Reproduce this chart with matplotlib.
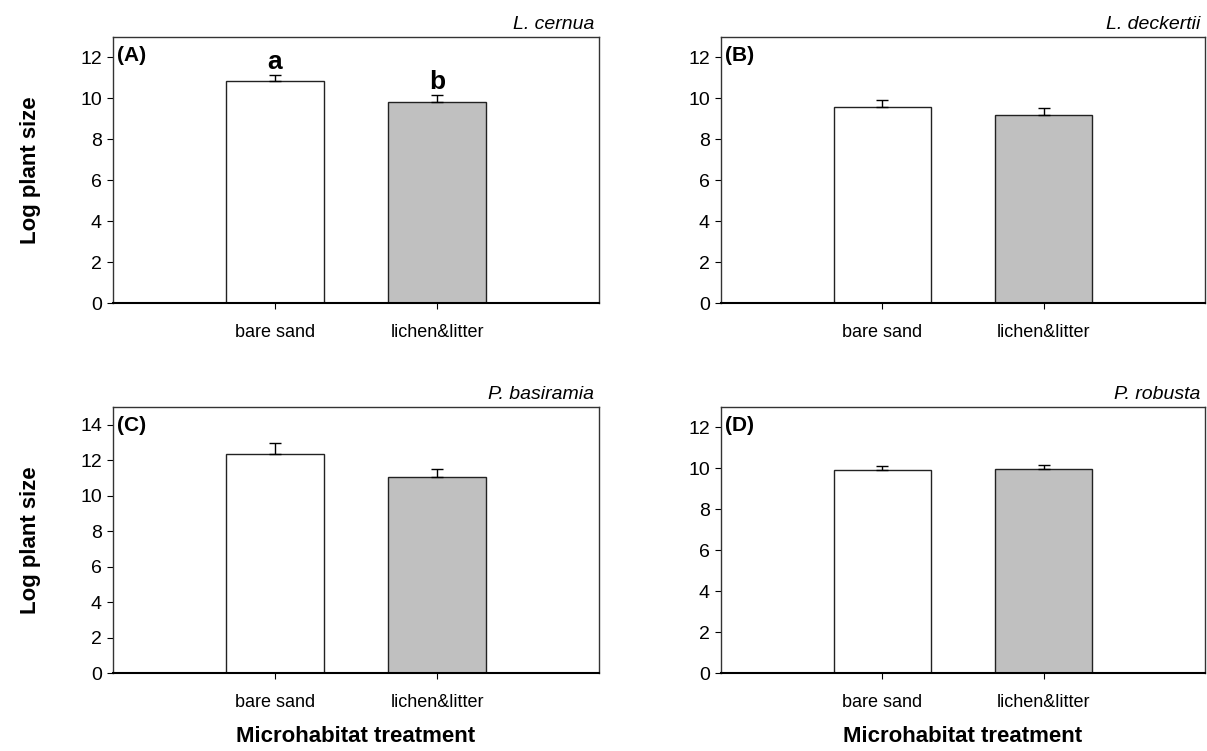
import matplotlib
matplotlib.use("Agg")
import matplotlib.pyplot as plt

plt.rcParams['font.family'] = ['Liberation Sans', 'DejaVu Sans']

categories = ["bare sand", "lichen&litter"]
panel_labels = ["(A)", "(B)", "(C)", "(D)"]
species = ["L. cernua", "L. deckertii", "P. basiramia", "P. robusta"]

means_A = [10.86, 9.82]
errs_A = [0.26, 0.33]
means_B = [9.56, 9.17]
errs_B = [0.37, 0.36]
means_C = [12.35, 11.06]
errs_C = [0.60, 0.47]
means_D = [9.92, 9.97]
errs_D = [0.18, 0.18]

ylims = [13, 13, 15, 13]
yticks_list = [[0, 2, 4, 6, 8, 10, 12], [0, 2, 4, 6, 8, 10, 12],
               [0, 2, 4, 6, 8, 10, 12, 14], [0, 2, 4, 6, 8, 10, 12]]
sig_letters_A = ["a", "b"]

bar_colors = ["white", "#c0c0c0"]

W, H = 1207, 751
fig = plt.figure(figsize=(W / 100, H / 100), dpi=100)

rects = [
    [113 / W, 1 - 303 / H, 486 / W, 266 / H],
    [721 / W, 1 - 303 / H, 484 / W, 266 / H],
    [113 / W, 1 - 673 / H, 486 / W, 266 / H],
    [721 / W, 1 - 673 / H, 484 / W, 266 / H],
]

all_means = [means_A, means_B, means_C, means_D]
all_errs = [errs_A, errs_B, errs_C, errs_D]
positions = [1, 2]

for i in range(4):
    ax = fig.add_axes(rects[i])
    m = all_means[i]
    e = all_errs[i]
    ax.bar(positions, m, width=0.6, color=bar_colors, edgecolor="#222222",
           linewidth=1.0, zorder=2)
    ax.errorbar(positions, m, yerr=[[0, 0], e], fmt="none", ecolor="black",
                elinewidth=1.0, capsize=4.5, capthick=1.0, zorder=3)
    ax.set_xlim(0, 3)
    ax.set_ylim(0, ylims[i])
    ax.set_yticks(yticks_list[i])
    ax.set_xticks(positions)
    ax.set_xticklabels(categories, fontsize=13)
    ax.tick_params(axis="y", direction="out", length=4, width=0.8,
                   labelsize=14, pad=4)
    ax.tick_params(axis="x", direction="out", length=4, width=0.8,
                   pad=11)
    for side in ["left", "top", "right"]:
        ax.spines[side].set_color("#333333")
        ax.spines[side].set_linewidth(1.0)
    ax.spines["bottom"].set_color("black")
    ax.spines["bottom"].set_linewidth(1.5)

    ax.text(0.99, 1.015, species[i], transform=ax.transAxes, ha="right",
            va="bottom", fontsize=14, style="italic")
    ax.text(0.008, 0.93, panel_labels[i], transform=ax.transAxes, ha="left",
            va="center", fontsize=15, fontweight="bold")

    if i in (0, 2):
        ax.set_ylabel("Log plant size", fontsize=16, fontweight="bold",
                      labelpad=28)
    if i in (2, 3):
        ax.set_xlabel("Microhabitat treatment", fontsize=16,
                      fontweight="bold", labelpad=11)
    if i == 0:
        for p, mv, ev, lab in zip(positions, m, e, sig_letters_A):
            ax.text(p, mv + ev + 0.05, lab, ha="center", va="bottom",
                    fontsize=19, fontweight="bold")

fig.savefig("out.png", dpi=100)
